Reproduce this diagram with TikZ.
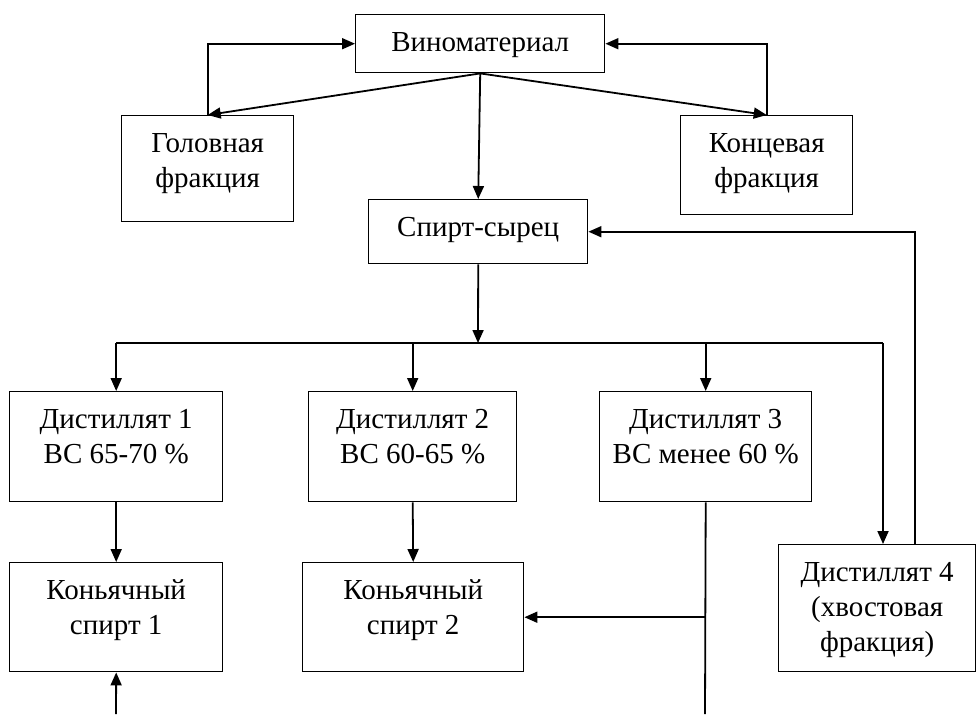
\documentclass[tikz,border=0pt]{standalone}
\usepackage{fontspec}
\setmainfont{Liberation Serif}
\usetikzlibrary{arrows.meta}
\tikzset{mybox/.style={
  shape=rectangle,
  draw=black,
  line width=0.7pt,
  inner sep=0pt,
  align=center,
  anchor=north west,
  text height=18.5pt,
  font=\fontsize{14.5}{17.5}\selectfont,
  },
  twolines/.style={text height=36pt},
  threelines/.style={text height=53.5pt},
  arr/.style={
  -{Triangle[length=6.5pt,width=5.5pt]},
  line width=0.9pt,
  }
}
\begin{document}
\begin{tikzpicture}[x=0.5pt,y=-0.5pt]
      \useasboundingbox (0,0) rectangle (977,714);

      \node [mybox, minimum width=124.5pt, text depth=10.5pt] (vino) at (355,14) {Виноматериал};
      \node [mybox, twolines, minimum width=86pt, text depth=17pt] (head) at (121,115) {Головная\\фракция};
      \node [mybox, twolines, minimum width=86pt, text depth=13.5pt] (tail) at (680,115) {Концевая\\фракция};
      \node [mybox, minimum width=109.5pt, text depth=13.5pt] (raw) at (368,199) {Спирт-сырец};

      \node [mybox, twolines, minimum width=106.5pt, text depth=19pt] (d1) at (9,391) {Дистиллят 1\\ВС 65-70 \%};
      \node [mybox, twolines, minimum width=104pt, text depth=19pt] (d2) at (308,391) {Дистиллят 2\\ВС 60-65 \%};
      \node [mybox, twolines, minimum width=106pt, text depth=19pt] (d3) at (599,391) {Дистиллят 3\\ВС менее 60 \%};
      \node [mybox, threelines, minimum width=98.5pt, text depth=10pt] (d4) at (778,544) {Дистиллят 4\\(хвостовая\\фракция)};

      \node [mybox, twolines, minimum width=106.5pt, text depth=18.5pt] (c1) at (9,562) {Коньячный\\спирт 1};
      \node [mybox, twolines, minimum width=110.5pt, text depth=18.5pt] (c2) at (302,562) {Коньячный\\спирт 2};

      \coordinate (split) at (478,343);
      \coordinate (d4in) at (883,343);
      \coordinate (ret) at (915,0);
      \coordinate (d3out) at (705,714);
      \coordinate (c1in) at (116,714);

      \draw [arr] (vino.south) -- (head.north);
      \draw [arr] (vino.south) -- (tail.north);
      \draw [arr] (vino.south) -- (raw.north);
      \draw [arr] (head.north) -- (head.north |- vino.west) -- (vino.west);
      \draw [arr] (tail.north) -- (tail.north |- vino.east) -- (vino.east);

      \draw [arr] (raw.south) -- (split);
      \draw [line width=0.6pt] (d1.north |- split) -- (d4in);
      \draw [arr] (d1.north |- split) -- (d1.north);
      \draw [arr] (d2.north |- split) -- (d2.north);
      \draw [arr] (d3.north |- split) -- (d3.north);
      \draw [arr] (d4in) -- (d4in |- d4.north);
      \draw [arr] (ret |- d4.north) -- (ret |- raw.east) -- (raw.east);

      \draw [arr] (d1.south) -- (c1.north);
      \draw [arr] (d2.south) -- (c2.north);
      \draw [line width=0.9pt] (d3.south) -- (d3out);
      \draw [arr] (d3.south |- c2.east) -- (c2.east);
      \draw [arr] (c1in) -- (c1.south);
\end{tikzpicture}
\end{document}
